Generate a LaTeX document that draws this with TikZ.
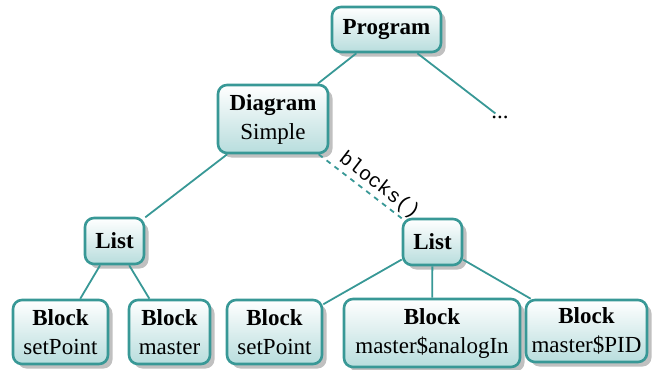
\documentclass[tikz,border=0pt]{standalone}
\usepackage{fontspec}
\setmainfont{Liberation Serif}
\setmonofont{Liberation Mono}
\usetikzlibrary{shadows}
\definecolor{tealb}{RGB}{56,152,150}
\definecolor{tealf}{RGB}{184,221,221}
\definecolor{shad}{RGB}{192,192,192}
\tikzset{
  box/.style={draw=tealb, line width=2.6pt, rounded corners=9pt,
    top color=white, bottom color=tealf,
    drop shadow={shadow xshift=4.5pt, shadow yshift=-4.5pt, fill=shad, opacity=1},
    align=center, inner sep=0pt, font=\fontsize{23}{29}\selectfont},
  conn/.style={draw=tealb, line width=1.8pt},
  dashconn/.style={conn, dash pattern=on 5pt off 5pt},
  lbl/.style={font=\ttfamily\fontsize{20}{20}\selectfont, text=black, sloped, above, inner sep=2pt},
  dotsnode/.style={font=\fontsize{23}{27}\selectfont, inner sep=2pt},
}
\begin{document}
\begin{tikzpicture}[x=1pt,y=-1pt]
\useasboundingbox (0,0) rectangle (652,369);
\node[box, minimum width=109pt, minimum height=45pt] (prog) at (386.5,29.5) {\bfseries Program};
\node[box, minimum width=110pt, minimum height=68pt] (diag) at (273,119) {\bfseries Diagram\\Simple};
\node[box, minimum width=59pt, minimum height=46pt] (listL) at (114.5,241) {\bfseries List};
\node[box, minimum width=59pt, minimum height=46pt] (listR) at (432.5,242) {\bfseries List};
\node[box, minimum width=95pt, minimum height=64pt] (b1) at (60.5,332) {\bfseries Block\\setPoint};
\node[box, minimum width=81pt, minimum height=64pt] (b2) at (169.5,332) {\bfseries Block\\master};
\node[box, minimum width=95pt, minimum height=64pt] (b3) at (274.5,332) {\bfseries Block\\setPoint};
\node[box, minimum width=176pt, minimum height=68pt] (b4) at (432,333) {\bfseries Block\\master\$analogIn};
\node[box, minimum width=121pt, minimum height=62pt] (b5) at (586.5,331) {\bfseries Block\\master\$PID};
\node[dotsnode] (dots) at (500,117) {...};
\draw[conn] (prog) -- (diag);
\draw[conn] (prog) -- (dots);
\draw[conn] (diag) -- (listL);
\draw[dashconn] (diag) -- node[lbl, pos=0.64] {blocks()} (listR);
\draw[conn] (listL) -- (b1);
\draw[conn] (listL) -- (b2);
\draw[conn] (listR) -- (b3);
\draw[conn] (listR) -- (b4);
\draw[conn] (listR) -- (b5);
\end{tikzpicture}
\end{document}
